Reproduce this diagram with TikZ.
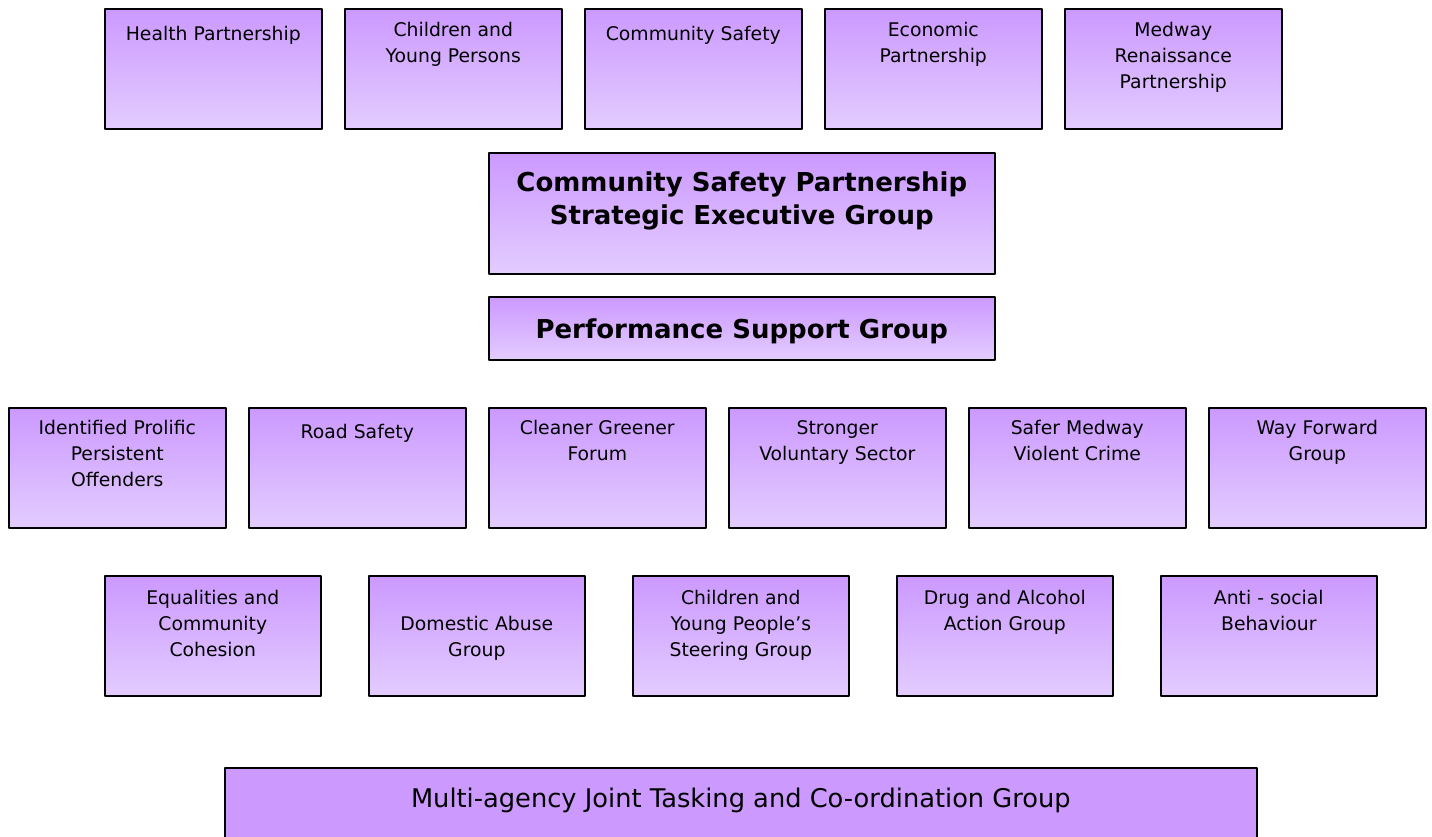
\documentclass[tikz,border=0pt]{standalone}
\usepackage{fontspec}
\setmainfont{DejaVu Sans}
\usetikzlibrary{positioning}
\definecolor{lilac}{HTML}{CC99FF}
\definecolor{palelilac}{HTML}{E3CCFF}
\begin{document}
\begin{tikzpicture}[x=1pt, y=-1pt, line join=round,
	frame/.style={draw=black, line width=1.6pt, anchor=north west, inner sep=0pt},
	box/.style={frame, top color=lilac, bottom color=palelilac, minimum width=217pt, minimum height=120pt},
	lbl/.style={align=center, anchor=north, inner sep=0pt, font=\fontsize{18.8}{26}\selectfont, execute at begin node=\strut},
	head/.style={align=center, anchor=north, inner sep=0pt, font=\fontsize{26}{33}\selectfont\bfseries, execute at begin node=\strut}]
	\path[use as bounding box, clip] (0,0) rectangle (1432,837);
	% partnerships
	\foreach \t [count=\i] in {Health Partnership, {Children and\\Young Persons}, Community Safety, {Economic\\Partnership}, {Medway\\Renaissance\\Partnership}}{
		\node[box] (part\i) at ({104+240*(\i-1)},8) {};
		\node[lbl] (part\i t) at ([yshift=-13.8pt]part\i.north) {\t};}
	% executive and support group
	\node[box, minimum width=506pt, minimum height=121pt] (cspseg) at (488,152) {};
	\node[head] (cspsegt) at ([yshift=-20pt]cspseg.north) {Community Safety Partnership\\Strategic Executive Group};
	\node[box, minimum width=506pt, minimum height=63pt] (psg) at (488,296) {};
	\node[head] (psgt) at ([yshift=-19pt]psg.north) {Performance Support Group};
	% delivery groups
	\foreach \t [count=\i] in {{Identified Prolific\\Persistent\\Offenders}, Road Safety, {Cleaner Greener\\Forum}, {Stronger\\Voluntary Sector}, {Safer Medway\\Violent Crime}, {Way Forward\\Group}}{
		\node[box] (grp\i) at ({8+240*(\i-1)},407) {};
		\node[lbl] (grp\i t) at ([yshift=-13.3pt]grp\i.north) {\t};}
	\foreach \s/\t [count=\i] in {0/{Equalities and\\Community\\Cohesion}, 1/{Domestic Abuse\\Group}, 0/{Children and\\Young People’s\\Steering Group}, 0/{Drug and Alcohol\\Action Group}, 0/{Anti - social\\Behaviour}}{
		\node[box, minimum width=216pt] (sub\i) at ({104+264*(\i-1)},575) {};
		\node[lbl] (sub\i t) at ([yshift={-15.3pt-26pt*\s}]sub\i.north) {\t};}
	% tasking group
	\node[frame, fill=lilac, minimum width=1032pt, minimum height=110pt] (mjtcg) at (224,767) {};
	\node[lbl, font=\fontsize{25.7}{30}\selectfont] (mjtcgt) at ([yshift=-19.5pt]mjtcg.north) {Multi-agency Joint Tasking and Co-ordination Group};
\end{tikzpicture}
\end{document}
